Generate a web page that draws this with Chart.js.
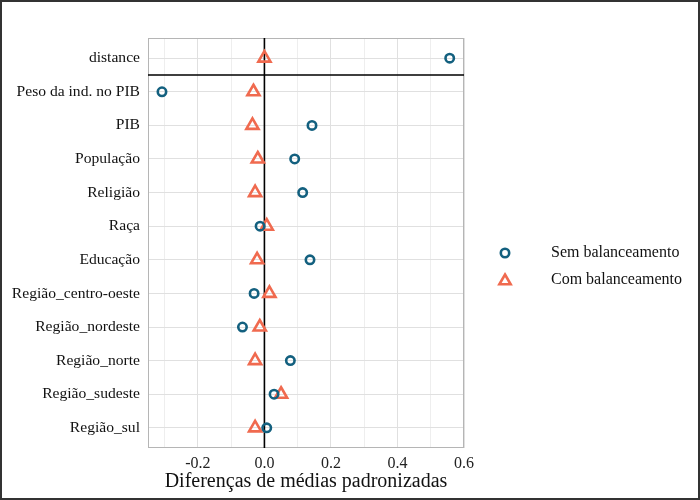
<!DOCTYPE html>
<html>
<head>
<meta charset="utf-8">
<script src="https://cdn.jsdelivr.net/npm/chart.js@4"></script>
<style>
  html, body { margin: 0; padding: 0; background: #fff; }
  #frame { width: 700px; height: 500px; box-sizing: border-box; border: 2px solid #333; position: relative; }
  #chart { display: block; }
</style>
</head>
<body>
<div id="frame"><canvas id="chart" width="696" height="496"></canvas></div>
<script>
const categories = ['distance', 'Peso da ind. no PIB', 'PIB', 'População', 'Religião', 'Raça',
    'Educação', 'Região_centro-oeste', 'Região_nordeste', 'Região_norte', 'Região_sudeste', 'Região_sul']

const semBalanceamento = [0.557, -0.308, 0.143, 0.091, 0.115, -0.013, 0.137, -0.031, -0.066, 0.078, 0.029, 0.007]
const comBalanceamento = [0.000, -0.033, -0.036, -0.020, -0.028, 0.007, -0.022, 0.015, -0.014, -0.028, 0.050, -0.028]

const xTicks = [-0.3, -0.2, -0.1, 0, 0.1, 0.2, 0.3, 0.4, 0.5, 0.6]
const xTickLabels = ['', '-0.2', '', '0.0', '', '0.2', '', '0.4', '', '0.6']

const seriesNames = ['Sem balanceamento', 'Com balanceamento']

var blue = '#13607f'
var coral = '#f06a4f'
const serif = '"Liberation Serif", "Times New Roman", serif'

/* reference lines, panel border and the legend */
const extras = {
    id: 'extras',
    beforeDatasetsDraw(chart) {
        const { ctx, chartArea: a, scales } = chart
        ctx.save()
        ctx.strokeStyle = '#b5b5b5'
        ctx.lineWidth = 1
        ctx.strokeRect(a.left + 0.5, a.top + 0.5, a.width - 1, a.height - 1)
        ctx.strokeStyle = '#000'
        ctx.lineWidth = 1.6
        const x0 = scales.x.getPixelForValue(0)
        ctx.beginPath()
        ctx.moveTo(x0, a.top)
        ctx.lineTo(x0, a.bottom)
        const yh = scales.y.getPixelForValue(0.5)
        ctx.moveTo(a.left, yh)
        ctx.lineTo(a.right, yh)
        ctx.stroke()
        ctx.restore()
    },
    afterDraw(chart) {
        const { ctx, chartArea: a } = chart
        const styles = [
            { pointStyle: 'circle', radius: 4.2, color: blue },
            { pointStyle: 'triangle', radius: 6.5, color: coral }
        ]
        ctx.save()
        ctx.font = '16px ' + serif
        ctx.textBaseline = 'middle'
        seriesNames.forEach((name, i) => {
            const cy = a.top + 215 + i * 27
            const cx = a.right + 41
            const s = styles[i]
            ctx.fillStyle = 'rgba(0,0,0,0)'
            ctx.strokeStyle = s.color
            ctx.lineWidth = 2.6
            Chart.helpers.drawPoint(ctx, { pointStyle: s.pointStyle, radius: s.radius, borderWidth: 2.6, rotation: 0 }, cx, cy + (i == 1 ? 1 : 0))
            ctx.fillStyle = '#111'
            ctx.fillText(name, cx + 46, cy)
        })
        ctx.restore()
    }
}

const myChart = new Chart(document.getElementById('chart'), {
    type: 'scatter',
    data: {
        datasets: [{
            label: seriesNames[0],
            data: semBalanceamento.map((v, i) => ({ x: v, y: i })),
            pointStyle: 'circle',
            pointRadius: 4.2,
            pointBorderWidth: 2.6,
            borderColor: blue,
            backgroundColor: 'rgba(0,0,0,0)',
            pointHoverRadius: 4.2
        }, {
            label: seriesNames[1],
            data: comBalanceamento.map((v, i) => ({ x: v, y: i })),
            pointStyle: 'triangle',
            pointRadius: 7,
            pointBorderWidth: 2.6,
            borderColor: coral,
            backgroundColor: 'rgba(0,0,0,0)',
            pointHoverRadius: 7
        }]
    },
    options: {
        responsive: false,
        animation: false,
        layout: {
            padding: { top: 36, right: 234, left: 0, bottom: 0 }
        },
        plugins: {
            legend: { display: false },
            tooltip: { enabled: false }
        },
        scales: {
            x: {
                type: 'linear',
                min: -0.35,
                max: 0.6,
                afterBuildTicks: (scale) => { scale.ticks = xTicks.map(v => ({ value: v })) },
                afterFit: (scale) => { scale.height = 50 },
                border: { display: false },
                grid: {
                    drawTicks: false,
                    color: (c) => (c.tick && xTickLabels[xTicks.indexOf(c.tick.value)] === '') ? '#eeeeee' : '#e0e0e0',
                    lineWidth: 1
                },
                ticks: {
                    autoSkip: false,
                    maxRotation: 0,
                    padding: 6,
                    color: '#222',
                    font: { family: serif, size: 16 },
                    callback: (v, i) => xTickLabels[i]
                },
                title: {
                    display: true,
                    text: 'Diferenças de médias padronizadas',
                    color: '#111',
                    font: { family: serif, size: 20 },
                    padding: { top: 0, bottom: 4 }
                }
            },
            y: {
                type: 'linear',
                reverse: true,
                min: -0.6,
                max: 11.6,
                afterBuildTicks: (scale) => { scale.ticks = categories.map((c, i) => ({ value: i })) },
                afterFit: (scale) => { scale.width = 146 },
                border: { display: false },
                grid: {
                    drawTicks: false,
                    color: '#e0e0e0',
                    lineWidth: 1
                },
                ticks: {
                    autoSkip: false,
                    padding: 8,
                    color: '#111',
                    font: { family: serif, size: 15.6 },
                    callback: (v) => categories[v]
                }
            }
        }
    },
    plugins: [extras]
})
</script>
</body>
</html>
